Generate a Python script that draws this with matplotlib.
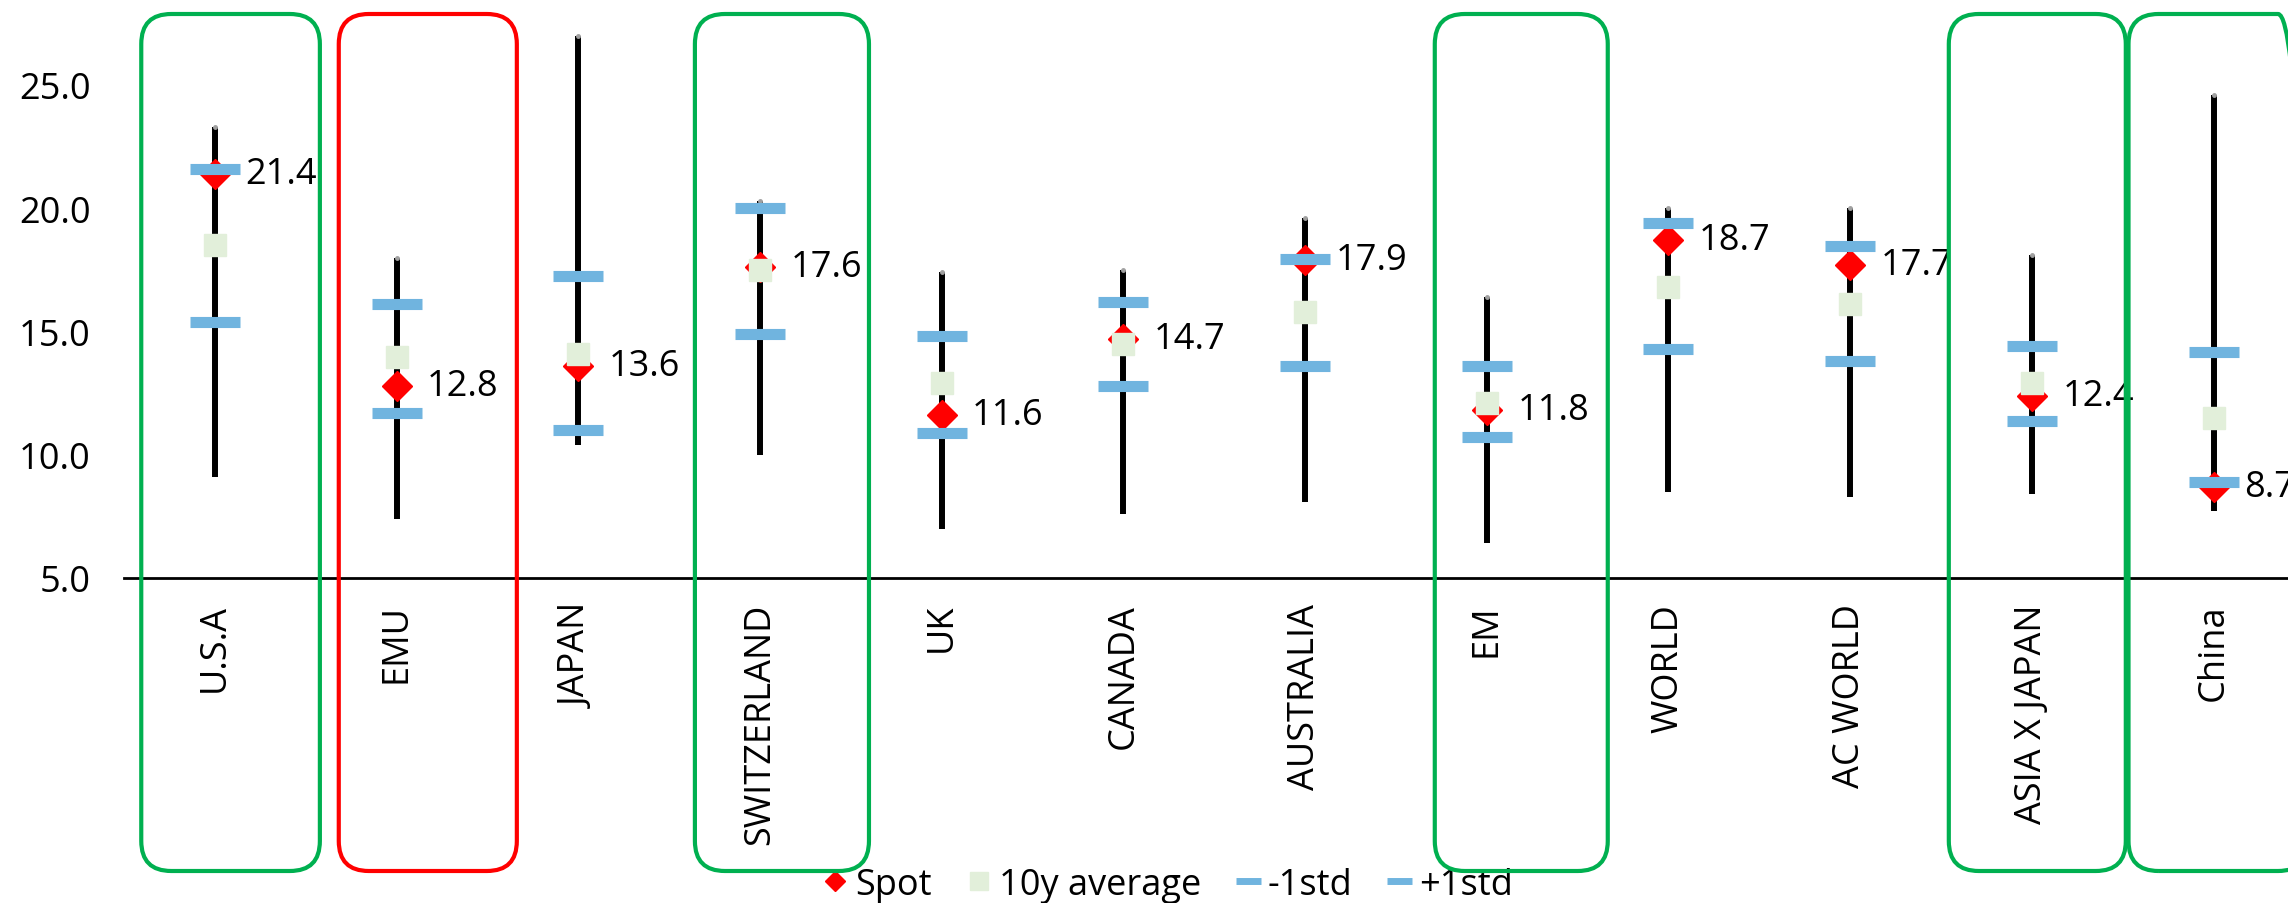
import numpy as np
import matplotlib
matplotlib.use("Agg")
import matplotlib.pyplot as plt
from matplotlib.lines import Line2D
from matplotlib.patches import FancyBboxPatch
from matplotlib.transforms import IdentityTransform

plt.rcParams["font.family"] = ["Open Sans", "DejaVu Sans"]

# ---------------------------------------------------------------------
# data
# ---------------------------------------------------------------------
categories = ["U.S.A", "EMU", "JAPAN", "SWITZERLAND", "UK", "CANADA",
              "AUSTRALIA", "EM", "WORLD", "AC WORLD", "ASIA X JAPAN", "China"]
spot = [21.4, 12.8, 13.6, 17.6, 11.6, 14.7, 17.9, 11.8, 18.7, 17.7, 12.4, 8.7]
avg_10y = [18.5, 13.95, 14.1, 17.5, 12.9, 14.5, 15.8, 12.1, 16.8, 16.1, 12.9, 11.5]
minus_std = [15.4, 11.7, 11.0, 14.9, 10.9, 12.8, 13.6, 10.7, 14.3, 13.8, 11.35, 8.9]
plus_std = [21.6, 16.1, 17.25, 20.0, 14.8, 16.2, 17.95, 13.6, 19.4, 18.45, 14.4, 14.15]
high = [23.3, 18.0, 27.0, 20.3, 17.4, 17.5, 19.6, 16.4, 20.0, 20.0, 18.1, 24.6]
low = [9.1, 7.4, 10.4, 10.0, 7.0, 7.6, 8.1, 6.4, 8.5, 8.3, 8.4, 7.7]

# highlighted categories: (index, left edge, right edge) in category units
green_boxes = [(0, -0.405, 0.578), (3, -0.358, 0.600), (7, -0.286, 0.666),
               (10, -0.457, 0.517), (11, -0.468, 0.52)]
red_boxes = [(1, -0.318, 0.662)]

RED = "#FF0000"
PALE = "#E2EFDA"
BLUE = "#70B4DF"
GREEN = "#00B050"
FS = 26

W, H, DPI = 2288, 904, 100
fig = plt.figure(figsize=(W / DPI, H / DPI), dpi=DPI)
ax = fig.add_axes([124 / W, (H - 579) / H, 12 * 181.7 / W, 579 / H])

x = np.arange(len(categories))

ax.vlines(x, low, high, color="black", linewidth=4.3, zorder=2)
ax.plot(x, high, linestyle="none", marker="o", markersize=2.5,
        color="#A0A0A0", zorder=2)
ax.plot(x, spot, linestyle="none", marker="D", markersize=15,
        color=RED, zorder=3)
ax.plot(x, avg_10y, linestyle="none", marker="s", markersize=16.5,
        color=PALE, zorder=4)
ax.plot(x, minus_std, linestyle="none", marker="_", markersize=36,
        markeredgewidth=8, color=BLUE, zorder=5)
ax.plot(x, plus_std, linestyle="none", marker="_", markersize=36,
        markeredgewidth=8, color=BLUE, zorder=5)

for xi, v in zip(x, spot):
    ax.annotate(f"{v:.1f}", (xi, v), xytext=(22, 0), textcoords="offset points",
                ha="left", va="center", fontsize=FS, zorder=6)

ax.set_xlim(-0.5, len(categories) - 0.5)
ax.set_ylim(5, 5 + 579 / 24.65)
ax.set_yticks([5, 10, 15, 20, 25])
ax.set_yticklabels([f"{t:.1f}" for t in [5, 10, 15, 20, 25]])
ax.set_xticks(x)
ax.set_xticklabels(categories, rotation=90, ha="center", va="top")
ax.tick_params(axis="y", length=0, pad=24, labelsize=FS)
ax.tick_params(axis="x", length=0, pad=18, labelsize=FS)
for side in ["left", "right", "top"]:
    ax.spines[side].set_visible(False)
ax.spines["bottom"].set_linewidth(2)
ax.spines["bottom"].set_color("black")

# rounded highlight boxes, placed in pixel space
fig.canvas.draw()
y_bot, y_top = H - 872, H - 15
for boxes, col in [(green_boxes, GREEN), (red_boxes, RED)]:
    for idx, l, r in boxes:
        x0 = ax.transData.transform((idx + l, 5))[0]
        x1 = ax.transData.transform((idx + r, 5))[0]
        patch = FancyBboxPatch((x0, y_bot), x1 - x0, y_top - y_bot,
                               boxstyle="round,pad=0,rounding_size=30",
                               transform=IdentityTransform(), fill=False,
                               edgecolor=col, linewidth=3.0, zorder=10)
        fig.add_artist(patch)

handles = [
    Line2D([], [], linestyle="none", marker="D", markersize=10, color=RED),
    Line2D([], [], linestyle="none", marker="s", markersize=13, color=PALE),
    Line2D([], [], linestyle="none", marker="_", markersize=18,
           markeredgewidth=5, color=BLUE),
    Line2D([], [], linestyle="none", marker="_", markersize=18,
           markeredgewidth=5, color=BLUE),
]
fig.legend(handles, ["Spot", "10y average", "-1std", "+1std"], ncol=4,
           loc="center", bbox_to_anchor=(1167 / W, 18 / H), frameon=False,
           fontsize=FS, handlelength=0.8, handletextpad=0.15,
           columnspacing=0.9, borderaxespad=0)

fig.savefig("out.png", dpi=DPI)
